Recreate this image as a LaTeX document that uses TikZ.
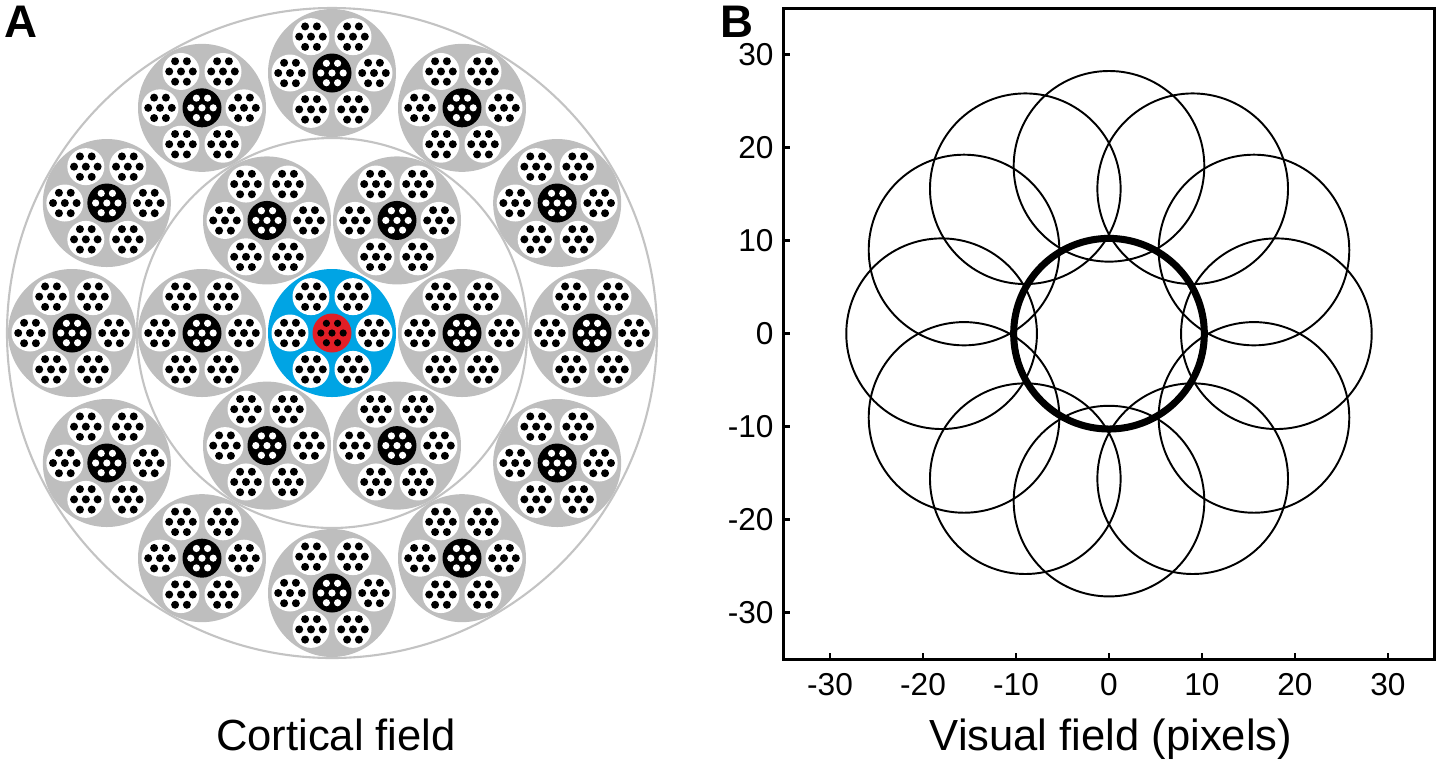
\documentclass[tikz,border=0pt]{standalone}
\usepackage{fontspec}
\setmainfont{Liberation Sans}
\usepackage{tikz}
\usetikzlibrary{positioning}
\definecolor{clustergray}{RGB}{190,190,190}
\definecolor{ringgray}{RGB}{195,195,195}
\definecolor{hubblue}{RGB}{0,164,228}
\definecolor{hubred}{RGB}{226,30,38}
\tikzset{ring/.style={draw=ringgray, line width=0.6pt}}
\tikzset{rfield/.style={draw=black, line width=0.55pt}}
\tikzset{axisbox/.style={draw=black, line width=0.75pt}}
\tikzset{ticklabel/.style={inner sep=0pt, font=\fontsize{9pt}{10pt}\selectfont}}
\tikzset{title/.style={inner sep=0pt, font=\fontsize{12.4pt}{14pt}\selectfont}}
\tikzset{panel/.style={inner sep=0pt, font=\fontsize{13pt}{14pt}\selectfont\bfseries}}
% one cluster: background, core fill, core dots
\tikzset{pics/cluster/.style n args={3}{code={
    \fill[#1] (0,0) circle [radius=64];
    \foreach \a in {0,60,...,300} {
        \fill[white] (\a:42) circle [radius=18.5];
        \fill (\a:42) circle [radius=4];
        \foreach \b in {0,60,...,300}
            \fill (\a:42) ++(\b:11.8) circle [radius=4];
    }
    \fill[#2] (0,0) circle [radius=19.5];
    \fill[#3] (0,0) circle [radius=3.6];
    \foreach \b in {0,60,...,300}
        \fill[#3] (\b:11.2) circle [radius=3.6];
}}}

\begin{document}
\begin{tikzpicture}[x=0.1mm, y=0.1mm]
    \useasboundingbox (0,0) rectangle (1441,-763);
    % cortical field
    \coordinate (cortex) at (332,-333);
    \draw[ring] (cortex) circle [radius=325];
    \draw[ring] (cortex) circle [radius=195];
    \pic at (cortex) {cluster={hubblue}{hubred}{black}};
    \foreach \a in {0,60,...,300}
        \pic at ([shift={(\a:130)}]cortex) {cluster={clustergray}{black}{white}};
    \foreach \a in {0,30,...,330}
        \pic at ([shift={(\a:260)}]cortex) {cluster={clustergray}{black}{white}};
    \node[panel, anchor=base] (lblA) at (21,-37) {A};
    \node[title, anchor=base] (cortexlabel) at (336,-750) {Cortical field};

    % visual field
    \begin{scope}[shift={(1109,-333.7)}, x=0.93mm, y=0.93mm]
        \coordinate (fovea) at (0,0);
        \foreach \a in {0,30,...,330}
            \draw[rfield] ([shift={(\a:18)}]fovea) circle [radius=10.25];
        \draw[rfield, line width=2pt] (fovea) circle [radius=10.25];
        \draw[axisbox] (-35,-35) rectangle (35,35);
        \foreach \t in {-30,-20,...,30} {
            \draw[axisbox] (\t,-35) -- ++(0,0.65);
            \draw[axisbox] (-35,\t) -- ++(0.65,0);
            \node[ticklabel, anchor=north] (xt\t) at (\t,-36.4) {\t};
            \node[ticklabel, anchor=east] (yt\t) at (-36,\t) {\t};
        }
    \end{scope}
    \node[panel, anchor=base] (lblB) at (737,-37) {B};
    \node[title, anchor=base] (visuallabel) at (1111,-750) {Visual field (pixels)};
\end{tikzpicture}
\end{document}
